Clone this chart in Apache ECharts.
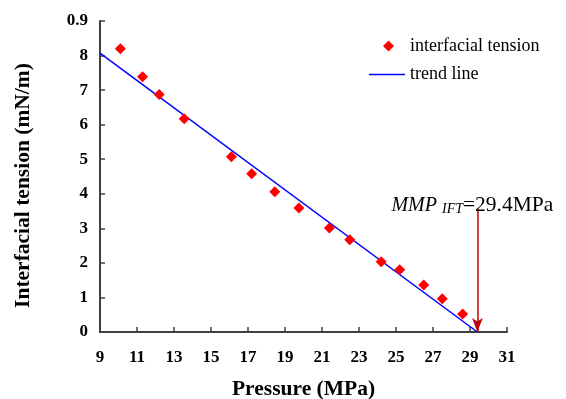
<!DOCTYPE html>
<html>
<head>
<meta charset="utf-8">
<script src="https://cdn.jsdelivr.net/npm/echarts@6/dist/echarts.min.js"></script>
<style>
  html, body { margin: 0; padding: 0; background: #fff; }
  #chartmain { width: 566px; height: 399px; }
</style>
</head>
<body>
<div id="chartmain"></div>
<script>
// measured points (pressure MPa, IFT mN/m)
var pressure = [10.1, 11.3, 12.2, 13.55, 16.1, 17.2, 18.45, 19.75, 21.4, 22.5, 24.2, 25.2, 26.5, 27.5, 28.6];
var tension  = [8.2, 7.39, 6.87, 6.17, 5.07, 4.58, 4.06, 3.59, 3.01, 2.67, 2.03, 1.8, 1.36, 0.96, 0.52];
// trend line end points
var trendX = [9, 29.4];
var trendY = [8.07, 0];
var mmp = 29.4;
var arrowTop = 3.57;
var xTicks = [9, 11, 13, 15, 17, 19, 21, 23, 25, 27, 29, 31];
var yTicks = [0, 1, 2, 3, 4, 5, 6, 7, 8, 9];
var yTickLabels = ['0', '1', '2', '3', '4', '5', '6', '7', '8', '0.9'];

var font = 'Liberation Serif';

var scatterData = [];
for (var i = 0; i < pressure.length; i++) {
	scatterData.push([pressure[i], tension[i]]);
}
var trendData = [];
for (var j = 0; j < trendX.length; j++) {
	trendData.push([trendX[j], trendY[j]]);
}

var axisCommon = {
	axisLine : { onZero : false, lineStyle : { color : '#404040', width : 2 } },
	axisTick : { inside : true, length : 5, lineStyle : { color : '#404040', width : 1.5 } },
	splitLine : { show : false },
	nameTextStyle : { fontFamily : font, fontWeight : 'bold', fontSize : 21.5, color : '#000' }
};
var legendText = { fontFamily : font, fontSize : 18, color : '#000' };

var option = {
	animation : false,
	backgroundColor : '#fff',
	grid : { left : 100, right : 59, top : 21, bottom : 67, outerBoundsMode : 'none' },
	legend : [ {
		orient : 'vertical',
		left : 383,
		top : 37,
		padding : 0,
		itemWidth : 11,
		itemHeight : 11,
		textStyle : Object.assign({}, legendText, { padding : [0, 0, 0, 11] }),
		data : [ { name : 'interfacial tension', icon : 'diamond' } ]
	}, {
		orient : 'vertical',
		left : 369,
		top : 65.5,
		padding : 0,
		itemWidth : 36,
		itemHeight : 1.5,
		textStyle : legendText,
		data : [ { name : 'trend line', icon : 'rect' } ]
	} ],
	xAxis : Object.assign({}, axisCommon, {
		type : 'value',
		min : 9,
		max : 31,
		name : 'Pressure (MPa)',
		nameLocation : 'middle',
		nameGap : 46,
		axisTick : Object.assign({}, axisCommon.axisTick, { customValues : xTicks }),
		axisLabel : {
			customValues : xTicks,
			margin : 17,
			fontFamily : font, fontWeight : 'bold', fontSize : 17, color : '#000'
		}
	}),
	yAxis : Object.assign({}, axisCommon, {
		type : 'value',
		min : 0,
		max : 9,
		name : 'Interfacial tension (mN/m)',
		nameLocation : 'middle',
		nameGap : 66,
		nameTextStyle : Object.assign({}, axisCommon.nameTextStyle, { padding : [0, 18, 0, 0] }),
		axisTick : Object.assign({}, axisCommon.axisTick, { customValues : yTicks }),
		axisLabel : {
			customValues : yTicks,
			margin : 12,
			fontFamily : font, fontWeight : 'bold', fontSize : 17, color : '#000',
			formatter : function(v) {
				var k = yTicks.indexOf(v);
				return k >= 0 ? yTickLabels[k] : '';
			}
		}
	}),
	series : [ {
		name : 'interfacial tension',
		type : 'scatter',
		symbol : 'diamond',
		symbolSize : 11,
		itemStyle : { color : '#ff0000', opacity : 1 },
		data : scatterData,
		z : 3
	}, {
		name : 'trend line',
		type : 'line',
		symbol : 'none',
		lineStyle : { color : '#0000ff', width : 1.5 },
		itemStyle : { color : '#0000ff' },
		data : trendData,
		markLine : {
			silent : true,
			symbol : ['none', 'arrow'],
			symbolSize : [8, 14],
			lineStyle : { color : '#c00000', width : 1.5, type : 'solid' },
			label : { show : false },
			data : [ [ { coord : [mmp, arrowTop] }, { coord : [mmp, 0] } ] ]
		},
		markPoint : {
			silent : true,
			symbol : 'circle',
			symbolSize : 0,
			label : {
				show : true,
				position : 'inside',
				offset : [-5, -3],
				formatter : '{i|MMP }{s|IFT}{n|=29.4MPa}',
				rich : {
					i : { fontFamily : font, fontStyle : 'italic', fontSize : 20, color : '#000' },
					s : { fontFamily : font, fontStyle : 'italic', fontSize : 14, color : '#000', padding : [8, 0, 0, 0] },
					n : { fontFamily : font, fontSize : 21.5, color : '#000' }
				}
			},
			data : [ { coord : [mmp, arrowTop] } ]
		}
	} ]
};

var myChart = echarts.init(document.getElementById('chartmain'));
myChart.setOption(option);
</script>
</body>
</html>
